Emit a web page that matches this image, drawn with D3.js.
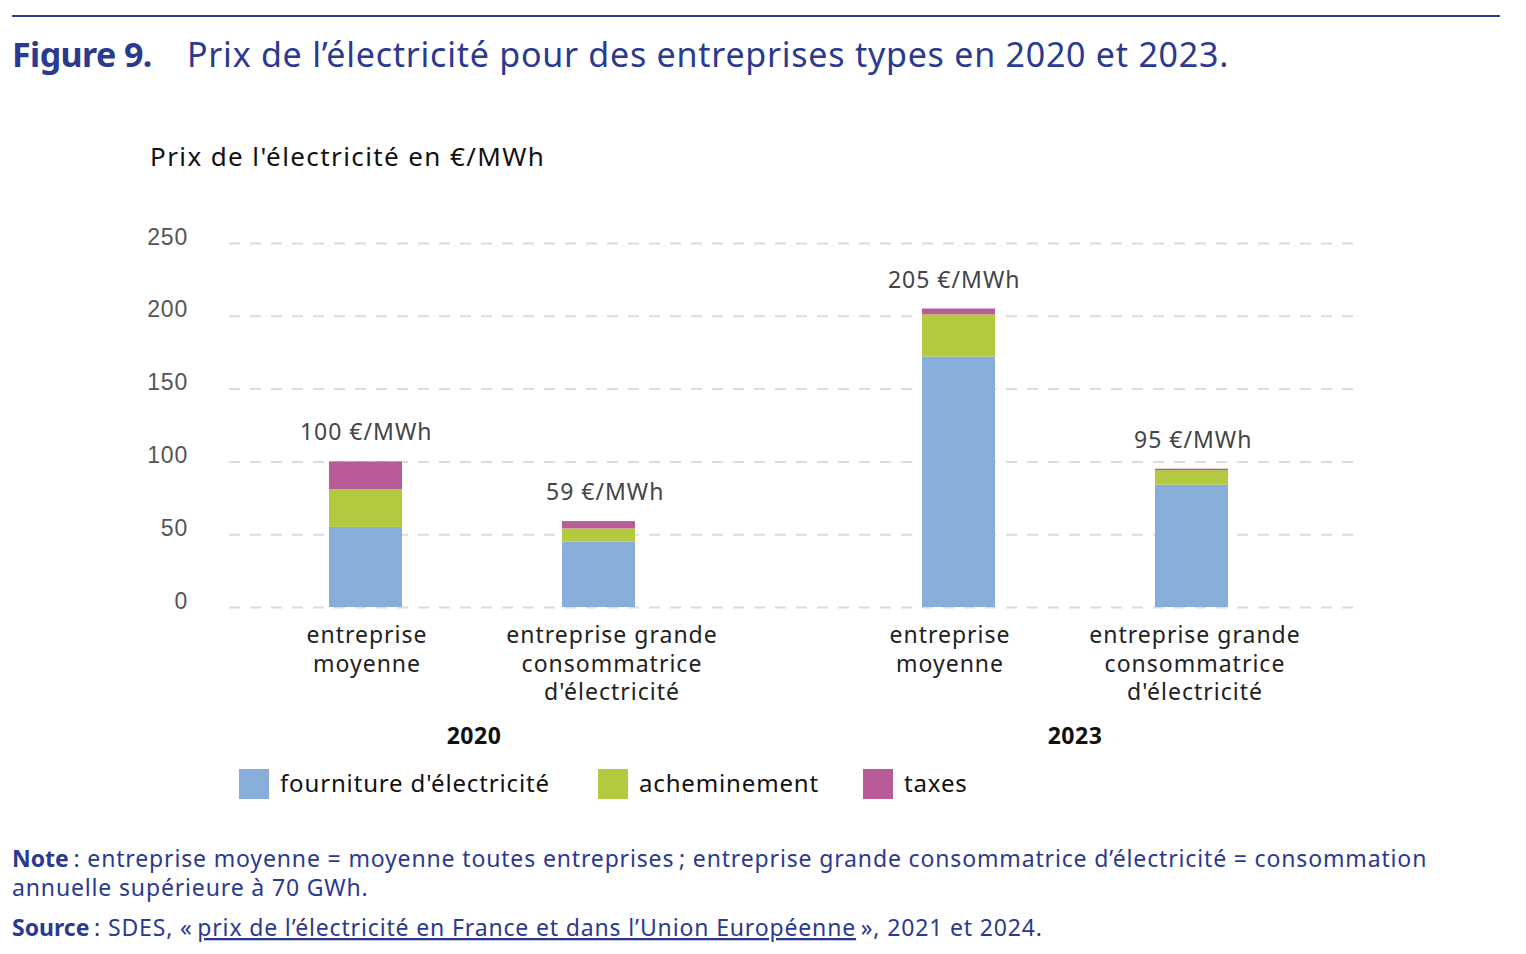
<!DOCTYPE html>
<html lang="fr">
<head>
<meta charset="utf-8">
<script src="https://cdn.jsdelivr.net/npm/d3@7"></script>
<style>
  body { margin: 0; background: #fff; }
  svg { display: block; font-family: 'Noto Sans', 'Open Sans', sans-serif; }
  .navy { fill: #2b3990; }
  .tick-label { fill: #555; font-size: 23px; letter-spacing: 0.8px; }
  .cat-label { fill: #222; font-size: 23px; letter-spacing: 1px; }
  .value-label { fill: #444; font-size: 23px; letter-spacing: 1px; }
</style>
</head>
<body>
<div id="chart"></div>
<script>
const years = ['2020', '2023'];
const categories = ['entreprise moyenne', 'entreprise grande consommatrice d\'électricité'];
const categoryLines = [['entreprise', 'moyenne'], ['entreprise grande', 'consommatrice', 'd\'électricité']];
const series = ['fourniture d\'électricité', 'acheminement', 'taxes'];
const seriesColors = ['#86aed9', '#b2c940', '#b95b96'];
// valeurs, dans l'ordre années x catégories
const fourniture = [55, 45, 172, 84];
const acheminement = [26, 9, 29, 10];
const taxes = [19, 5, 4, 1];
const totals = [100, 59, 205, 95];
const yTicks = [0, 50, 100, 150, 200, 250];

const width = 1526;
const height = 954;
const plot = { left: 229, right: 1355, top: 243, bottom: 607 };

const rows = [];
years.forEach((yr, i) => {
  categories.forEach((cat, j) => {
    const k = i * categories.length + j;
    rows.push({ year: yr, cat, catIndex: j, fourniture: fourniture[k], acheminement: acheminement[k], taxes: taxes[k], total: totals[k] });
  });
});

const svg = d3.select('#chart').append('svg').attr('width', width).attr('height', height);

// filet + titre
svg.append('line').attr('x1', 12).attr('x2', 1500).attr('y1', 16).attr('y2', 16)
  .attr('stroke', '#2b3990').attr('stroke-width', 2);
svg.append('text').attr('class', 'navy').attr('x', 12).attr('y', 67)
  .attr('font-size', 34).attr('font-weight', 700).attr('letter-spacing', -0.6).text('Figure 9.');
svg.append('text').attr('class', 'navy').attr('x', 187).attr('y', 67)
  .attr('font-size', 34).attr('letter-spacing', 0.75).text('Prix de l’électricité pour des entreprises types en 2020 et 2023.');

svg.append('text').attr('x', 150).attr('y', 166).attr('font-size', 26).attr('letter-spacing', 1.4).attr('fill', '#111')
  .text('Prix de l\'électricité en €/MWh');

const y = d3.scaleLinear().domain([0, 250]).range([plot.bottom, plot.top]);
// position des barres
const x0 = d3.scalePoint().domain(years).range([482, 1075]);
const x1 = d3.scalePoint().domain(categories).range([-116.5, 116.5]);
// position des libellés (légèrement décalés dans l'original)
const lx0 = d3.scalePoint().domain(years).range([489.5, 1072.5]);
const lx1 = d3.scalePoint().domain(categories).range([-122.5, 122.5]);
const barW = 73;
const cx = (d) => x0(d.year) + x1(d.cat);

// grille + graduations
const yAxis = d3.axisLeft(y).tickValues(yTicks).tickSize(-(plot.right - plot.left)).tickPadding(41);
const gy = svg.append('g').attr('transform', `translate(${plot.left},0)`).call(yAxis);
gy.select('.domain').remove();
gy.selectAll('.tick line').attr('stroke', '#dcdcdc').attr('stroke-width', 2).attr('stroke-dasharray', '11 10');
gy.selectAll('.tick text').attr('class', 'tick-label').attr('font-family', null).attr('font-size', null)
  .attr('fill', null).attr('dy', '0.05em');

// barres empilées
const stack = d3.stack().keys(['fourniture', 'acheminement', 'taxes']);
const layers = stack(rows);
svg.append('g').selectAll('g').data(layers).join('g')
  .attr('fill', (d, i) => seriesColors[i])
  .selectAll('rect').data((d) => d).join('rect')
  .attr('x', (d) => cx(d.data) - barW / 2)
  .attr('width', barW)
  .attr('y', (d) => y(d[1]))
  .attr('height', (d) => y(d[0]) - y(d[1]));

// étiquettes de total
svg.append('g').selectAll('text').data(rows).join('text')
  .attr('class', 'value-label').attr('text-anchor', 'middle')
  .attr('x', (d) => (cx(d) + lx0(d.year) + lx1(d.cat)) / 2).attr('y', (d) => y(d.total) - 21)
  .text((d) => `${d.total} €/MWh`);

// étiquettes de catégories, une ligne par texte
const catLines = rows.flatMap((d) => categoryLines[d.catIndex].map((t, i) => ({ t, i, x: lx0(d.year) + lx1(d.cat) })));
svg.append('g').selectAll('text').data(catLines).join('text')
  .attr('class', 'cat-label').attr('text-anchor', 'middle')
  .attr('x', (d) => d.x).attr('y', (d) => 643 + d.i * 28.5).text((d) => d.t);

svg.append('g').selectAll('text').data(years).join('text')
  .attr('x', (d) => x0(d) - (d === '2020' ? 8 : 0)).attr('y', 744).attr('text-anchor', 'middle')
  .attr('font-size', 23).attr('font-weight', 700).attr('letter-spacing', 0.5).attr('fill', '#111').text((d) => d);

// légende
const legendX = [239, 598, 863];
const lg = svg.append('g').selectAll('g').data(series).join('g')
  .attr('transform', (d, i) => `translate(${legendX[i]},769)`);
lg.append('rect').attr('width', 30).attr('height', 30).attr('fill', (d, i) => seriesColors[i]);
lg.append('text').attr('x', 41).attr('y', 23).attr('font-size', 24).attr('letter-spacing', 0.85)
  .attr('fill', '#111').text((d) => d);

// note et source
const note = svg.append('g').attr('class', 'navy').attr('font-size', 23).attr('letter-spacing', 0.85);
const n1 = note.append('text').attr('x', 12).attr('y', 867);
n1.append('tspan').attr('font-weight', 700).attr('letter-spacing', 0).text('Note');
n1.append('tspan').text('\u202f: entreprise moyenne = moyenne toutes entreprises\u202f; entreprise grande consommatrice d’électricité = consommation');
note.append('text').attr('x', 12).attr('y', 896).text('annuelle supérieure à 70 GWh.');
const n3 = note.append('text').attr('x', 12).attr('y', 936);
n3.append('tspan').attr('font-weight', 700).attr('letter-spacing', 0).text('Source');
n3.append('tspan').text('\u202f: SDES, «\u202f');
n3.append('tspan').style('text-decoration', 'underline').text('prix de l’électricité en France et dans l’Union Européenne');
n3.append('tspan').text('\u202f», 2021 et 2024.');
</script>
</body>
</html>
